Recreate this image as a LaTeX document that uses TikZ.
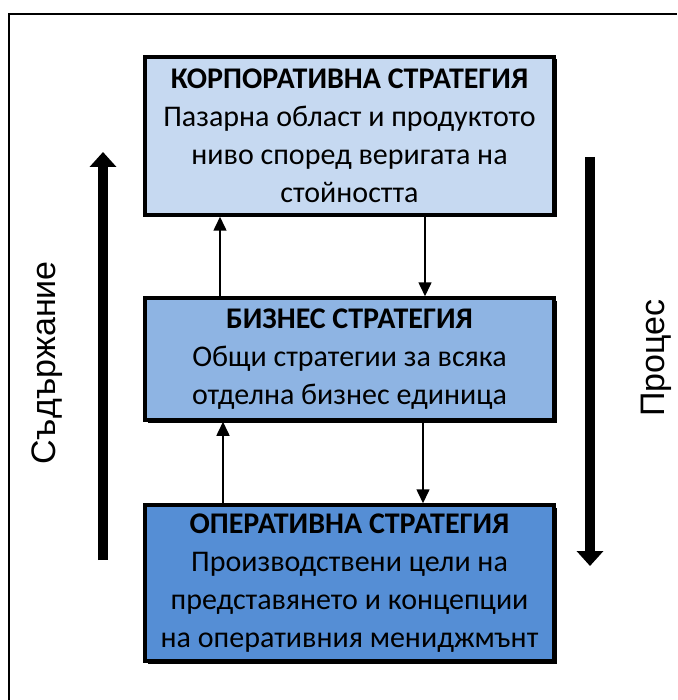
\documentclass[tikz,border=0pt]{standalone}
\usepackage{fontspec}
\setmainfont{Carlito}
\newfontfamily\labelfont{Liberation Sans}
\usetikzlibrary{arrows.meta,shadows}
\definecolor{lvlA}{HTML}{C6D9F1}
\definecolor{lvlB}{HTML}{8EB4E3}
\definecolor{lvlC}{HTML}{558ED5}

\begin{document}
\begin{tikzpicture}[x=1pt,y=-1pt,
  level/.style={draw=black, line width=3.5pt, minimum width=409pt, align=center,
    inner sep=0pt, font=\fontsize{30}{38}\selectfont,
    general shadow={fill=black, shadow xshift=2.5pt, shadow yshift=-2.5pt}},
  link/.style={line width=1.6pt, -{Triangle[width=13pt,length=14pt]}},
  bigarrow/.style={line width=10pt, -{Triangle[width=26pt,length=15pt]}},
  side/.style={font=\labelfont\fontsize{34}{40}\selectfont, rotate=90}]
\useasboundingbox (0,0) rectangle (677,700);

% outer frame
\draw[line width=2.5pt] (9,700) -- (9,14) -- (677,14);

% strategy levels
\node[level, fill=lvlA, minimum height=158pt] (corp) at (349.5,136)
  {\textbf{КОРПОРАТИВНА СТРАТЕГИЯ}\\Пазарна област и продуктото\\ниво според веригата на\\стойността};
\node[level, fill=lvlB, minimum height=122pt] (bus) at (349.5,359)
  {\textbf{БИЗНЕС СТРАТЕГИЯ}\\Общи стратегии за всяка\\отделна бизнес единица};
\node[level, fill=lvlC, minimum height=156pt] (oper) at (349.5,583)
  {\textbf{ОПЕРАТИВНА СТРАТЕГИЯ}\\Производствени цели на\\представянето и концепции\\на оперативния мениджмънт};

% links between levels
\draw[link] ([xshift=-129.5pt]bus.north) -- ([xshift=-129.5pt]corp.south);
\draw[link] ([xshift=75.5pt]corp.south) -- ([xshift=75.5pt]bus.north);
\draw[link] ([xshift=-126.5pt]oper.north) -- ([xshift=-126.5pt]bus.south);
\draw[link] ([xshift=73.5pt]bus.south) -- ([xshift=73.5pt]oper.north);

% side directions
\coordinate (cBot) at (103,560);
\coordinate (cTop) at (103,152);
\coordinate (pTop) at (590,157);
\coordinate (pBot) at (590,566);
\draw[bigarrow] (cBot) -- (cTop);
\draw[bigarrow] (pTop) -- (pBot);

\node[side] (content) at (47,363) {Съдържание};
\node[side] (process) at (656,358) {Процес};
\end{tikzpicture}
\end{document}
